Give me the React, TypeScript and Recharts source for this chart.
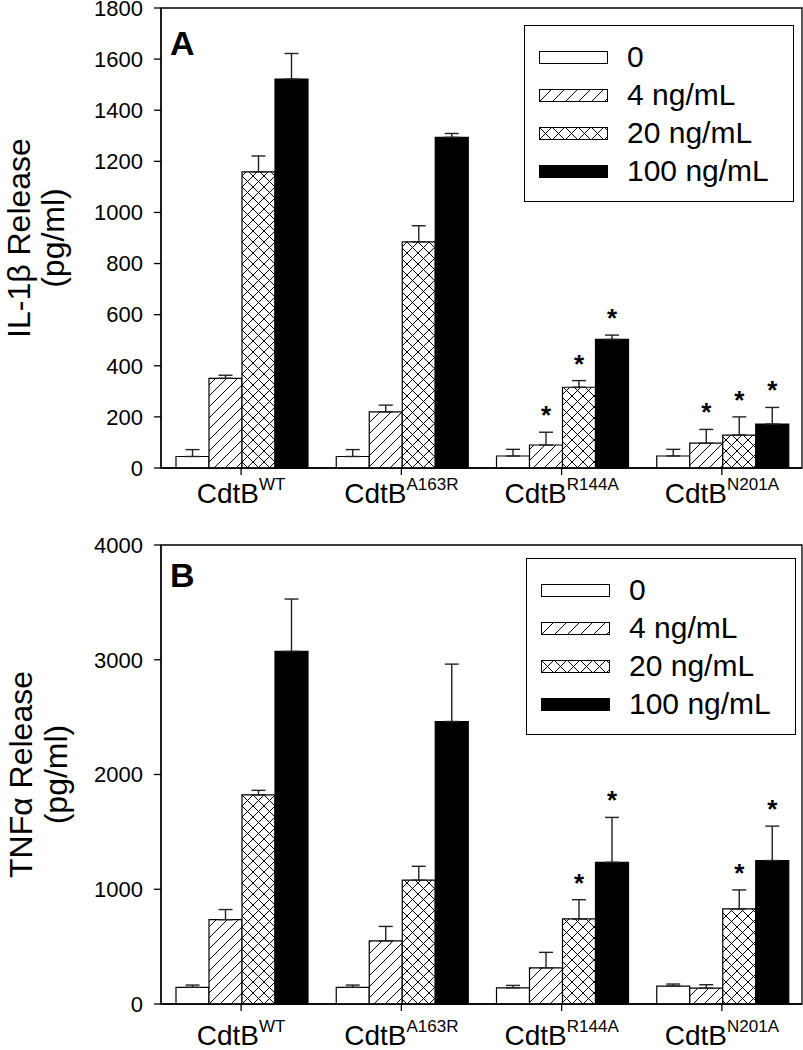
import React from "react";
import {
  Bar,
  BarChart,
  ErrorBar,
  LabelList,
  Legend,
  ReferenceArea,
  XAxis,
  YAxis,
} from "recharts";

// Two stacked panels: IL-1β (A) and TNFα (B) release per CdtB variant and dose.

const FONT = '"Liberation Sans", Arial, Helvetica, sans-serif';

const CATEGORIES = ["WT", "A163R", "R144A", "N201A"];
const DOSES = ["0", "4 ng/mL", "20 ng/mL", "100 ng/mL"];

// Panel A – IL-1β (pg/ml), one array per dose, one value per variant
const IL1B_0 = [45, 45, 47, 47];
const IL1B_4 = [351, 220, 90, 97];
const IL1B_20 = [1159, 885, 316, 129];
const IL1B_100 = [1522, 1294, 503, 172];
const IL1B_ERR_0 = [27, 27, 26, 26];
const IL1B_ERR_4 = [12, 26, 50, 54];
const IL1B_ERR_20 = [62, 63, 26, 71];
const IL1B_ERR_100 = [100, 15, 17, 65];
const IL1B_SIG_0 = [false, false, false, false];
const IL1B_SIG_4 = [false, false, true, true];
const IL1B_SIG_20 = [false, false, true, true];
const IL1B_SIG_100 = [false, false, true, true];
const IL1B_TICKS = [0, 200, 400, 600, 800, 1000, 1200, 1400, 1600, 1800];

// Panel B – TNFα (pg/ml)
const TNF_0 = [145, 145, 141, 156];
const TNF_4 = [735, 550, 315, 138];
const TNF_20 = [1823, 1079, 741, 829];
const TNF_100 = [3073, 2462, 1235, 1250];
const TNF_ERR_0 = [20, 20, 21, 18];
const TNF_ERR_4 = [88, 126, 135, 30];
const TNF_ERR_20 = [39, 121, 168, 165];
const TNF_ERR_100 = [456, 500, 391, 300];
const TNF_SIG_0 = [false, false, false, false];
const TNF_SIG_4 = [false, false, false, false];
const TNF_SIG_20 = [false, false, true, true];
const TNF_SIG_100 = [false, false, true, true];
const TNF_TICKS = [0, 1000, 2000, 3000, 4000];

const KEYS = ["d0", "d4", "d20", "d100"];

function buildRows(means: number[][], errs: number[][]) {
  return CATEGORIES.map((cat, i) => {
    const row: Record<string, unknown> = { cat };
    KEYS.forEach((k, s) => {
      row[k] = means[s][i];
      row["e" + k] = [0, errs[s][i]];
    });
    return row;
  });
}

const rowsA = buildRows(
  [IL1B_0, IL1B_4, IL1B_20, IL1B_100],
  [IL1B_ERR_0, IL1B_ERR_4, IL1B_ERR_20, IL1B_ERR_100],
);
const rowsB = buildRows(
  [TNF_0, TNF_4, TNF_20, TNF_100],
  [TNF_ERR_0, TNF_ERR_4, TNF_ERR_20, TNF_ERR_100],
);

function Patterns({ id, step }: { id: string; step: number }) {
  const s = step;
  const diag = `M0,${s} L${s},0 M${-s / 4},${s / 4} L${s / 4},${-s / 4} M${(3 * s) / 4},${(5 * s) / 4} L${(5 * s) / 4},${(3 * s) / 4}`;
  const back = `M0,0 L${s},${s} M${-s / 4},${(3 * s) / 4} L${s / 4},${(5 * s) / 4} M${(3 * s) / 4},${-s / 4} L${(5 * s) / 4},${s / 4}`;
  return (
    <defs>
      <pattern id={`diag-${id}`} patternUnits="userSpaceOnUse" width={s} height={s}>
        <rect width={s} height={s} fill="#fff" />
        <path d={diag} stroke="#000" strokeWidth={1} />
      </pattern>
      <pattern id={`cross-${id}`} patternUnits="userSpaceOnUse" width={s} height={s}>
        <rect width={s} height={s} fill="#fff" />
        <path d={diag + " " + back} stroke="#000" strokeWidth={1} />
      </pattern>
    </defs>
  );
}

const fillsFor = (id: string) => ["#fff", `url(#diag-${id})`, `url(#cross-${id})`, "#000"];

function LegendBox({ id }: { id: string }) {
  const fills = fillsFor(`leg-${id}`);
  return (
    <div
      style={{
        boxSizing: "border-box",
        width: 270,
        height: 177,
        border: "1.5px solid #000",
        padding: "12px 0 0 14px",
        background: "#fff",
        fontFamily: FONT,
        color: "#000",
      }}
    >
      {DOSES.map((d, i) => (
        <div key={d} style={{ display: "flex", alignItems: "center", height: 38 }}>
          <svg width={69} height={13} style={{ display: "block" }}>
            {i === 0 && <Patterns id={`leg-${id}`} step={13} />}
            <rect x={0.5} y={0.5} width={68} height={12} fill={fills[i]} stroke="#000" />
          </svg>
          <span style={{ marginLeft: 19, fontSize: 30, lineHeight: "38px" }}>{d}</span>
        </div>
      ))}
    </div>
  );
}

const starContent = (errs: number[], sig: boolean[]) => (p: any) => {
  const { x, y, width, height, value, index } = p;
  if (!sig[index] || !value) return null;
  const top = Number(y) - (errs[index] / Number(value)) * Number(height);
  return (
    <text
      x={Number(x) + Number(width) / 2}
      y={top - 8}
      textAnchor="middle"
      fontSize={26}
      fontWeight="bold"
      fontFamily={FONT}
      fill="#000"
    >
      *
    </text>
  );
};

interface PanelProps {
  id: string;
  rows: Record<string, unknown>[];
  errs: number[][];
  sigs: boolean[][];
  yMax: number;
  ticks: number[];
  height: number;
  marginTop: number;
  xAxisHeight: number;
  title: string;
  titleX: [number, number];
  letter: string;
  letterDy: number;
  labelDy: number;
  legendLeft: number;
  legendTop: number;
}

function Panel(props: PanelProps) {
  const { id, rows, errs, sigs, yMax, ticks, height, marginTop, xAxisHeight } = props;
  const fills = fillsFor(id);
  return (
    <BarChart
      width={803}
      height={height}
      data={rows}
      margin={{ top: marginTop, right: 1, bottom: 0, left: 0 }}
      barCategoryGap={15}
      barGap={0}
    >
      <Patterns id={id} step={11} />
      <ReferenceArea
        y1={0}
        y2={yMax}
        fill="none"
        stroke="#000"
        strokeWidth={1.3}
        ifOverflow="visible"
        label={(lp: any) => (
          <text
            x={lp.viewBox.x + 9}
            y={lp.viewBox.y + props.letterDy}
            fontSize={34}
            fontWeight="bold"
            fontFamily={FONT}
            fill="#000"
          >
            {props.letter}
          </text>
        )}
      />
      <XAxis
        dataKey="cat"
        interval={0}
        height={xAxisHeight}
        tickSize={7}
        axisLine={{ stroke: "#000", strokeWidth: 1.3 }}
        tickLine={{ stroke: "#000", strokeWidth: 1.3 }}
        tick={(tp: any) => (
          <text
            x={tp.x}
            y={tp.y + props.labelDy}
            textAnchor="middle"
            fontFamily={FONT}
            fill="#000"
          >
            <tspan fontSize={28}>CdtB</tspan>
            <tspan fontSize={17} dy={-13}>
              {tp.payload.value}
            </tspan>
          </text>
        )}
      />
      <YAxis
        type="number"
        width={161}
        domain={[0, yMax]}
        ticks={ticks}
        interval={0}
        tickSize={7}
        tickMargin={11}
        axisLine={{ stroke: "#000", strokeWidth: 1.3 }}
        tickLine={{ stroke: "#000", strokeWidth: 1.3 }}
        tick={{ fill: "#000", fontSize: 22, fontFamily: FONT }}
        label={{
          content: (lp: any) => {
            const vb = lp.viewBox;
            const cy = vb.y + vb.height / 2;
            return (
              <g fontFamily={FONT} fill="#000" fontSize={32}>
                <text transform={`translate(${props.titleX[0]},${cy}) rotate(-90)`} textAnchor="middle">
                  {props.title}
                </text>
                <text transform={`translate(${props.titleX[1]},${cy}) rotate(-90)`} textAnchor="middle">
                  (pg/ml)
                </text>
              </g>
            );
          },
        }}
      />
      <Legend
        layout="vertical"
        align="center"
        verticalAlign="middle"
        wrapperStyle={{ left: props.legendLeft, top: props.legendTop, width: 270, height: 177 }}
        content={() => <LegendBox id={id} />}
      />
      {KEYS.map((k, i) => (
        <Bar
          key={k}
          dataKey={k}
          name={DOSES[i]}
          fill={fills[i]}
          stroke="#000"
          strokeWidth={1.2}
          isAnimationActive={false}
        >
          <ErrorBar
            dataKey={"e" + k}
            direction="y"
            width={7}
            stroke="#222"
            strokeWidth={1.4}
            isAnimationActive={false}
          />
          <LabelList dataKey={k} content={starContent(errs[i], sigs[i])} />
        </Bar>
      ))}
    </BarChart>
  );
}

export default function App() {
  return (
    <div
      style={{
        position: "absolute",
        left: 0,
        top: 0,
        width: 803,
        height: 1050,
        background: "#fff",
      }}
    >
      <Panel
        id="A"
        rows={rowsA}
        errs={[IL1B_ERR_0, IL1B_ERR_4, IL1B_ERR_20, IL1B_ERR_100]}
        sigs={[IL1B_SIG_0, IL1B_SIG_4, IL1B_SIG_20, IL1B_SIG_100]}
        yMax={1800}
        ticks={IL1B_TICKS}
        height={520}
        marginTop={8}
        xAxisHeight={52}
        title="IL-1β Release"
        titleX={[30, 64]}
        letter="A"
        letterDy={47}
        labelDy={26}
        legendLeft={524}
        legendTop={25}
      />
      <Panel
        id="B"
        rows={rowsB}
        errs={[TNF_ERR_0, TNF_ERR_4, TNF_ERR_20, TNF_ERR_100]}
        sigs={[TNF_SIG_0, TNF_SIG_4, TNF_SIG_20, TNF_SIG_100]}
        yMax={4000}
        ticks={TNF_TICKS}
        height={530}
        marginTop={25}
        xAxisHeight={46}
        title="TNFα Release"
        titleX={[32, 67]}
        letter="B"
        letterDy={42}
        labelDy={32}
        legendLeft={526}
        legendTop={38}
      />
    </div>
  );
}
